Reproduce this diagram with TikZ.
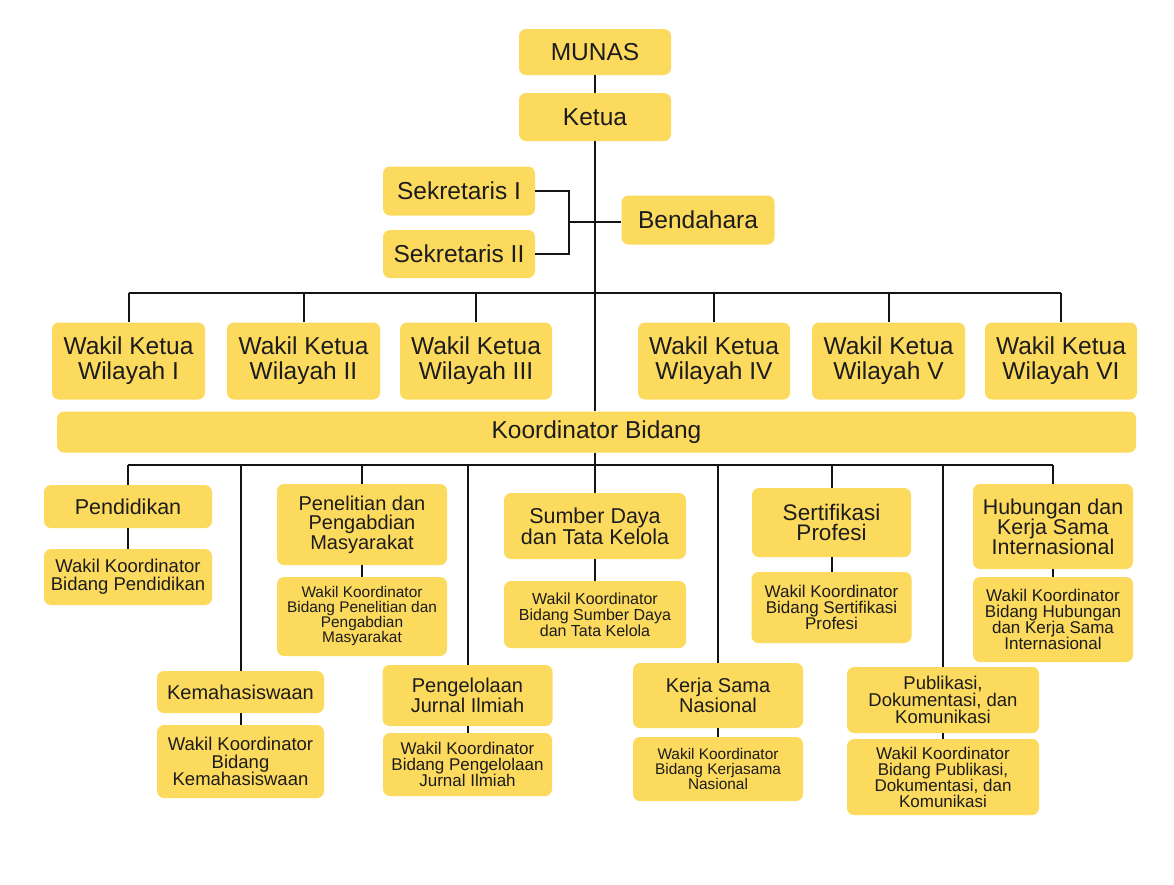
\documentclass[tikz,border=0pt]{standalone}
\usepackage{fontspec}
\setmainfont{Liberation Sans}
\definecolor{boxc}{RGB}{252,218,94}
\definecolor{txtc}{RGB}{28,28,28}
\definecolor{linec}{RGB}{20,20,20}
\newcommand\myfsz[2]{\fontsize{#1pt}{#2pt}\selectfont}
\begin{document}
\begin{tikzpicture}[x=1pt,y=-1pt,
  box/.style={fill=boxc, rounded corners=7pt, align=center, inner sep=0pt, text=txtc},
  fTop/.style={font=\myfsz{24.5}{25}},
  ln/.style={line width=2pt, draw=linec}]
\useasboundingbox[fill=white] (0,0) rectangle (1174,884);

% top
\node[box,fTop,minimum width=152pt,minimum height=46pt] (munas) at (595,52) {MUNAS};
\node[box,fTop,minimum width=152pt,minimum height=48pt] (ketua) at (595,117) {Ketua};
\node[box,fTop,minimum width=152pt,minimum height=49pt] (sek1) at (459,191) {Sekretaris I};
\node[box,fTop,minimum width=152pt,minimum height=48pt] (sek2) at (459,254) {Sekretaris II};
\node[box,fTop,minimum width=153pt,minimum height=49pt] (bend) at (698,220) {Bendahara};

% wakil ketua
\node[box,fTop,minimum width=153pt,minimum height=77pt] (wk1) at (128.5,361) {Wakil Ketua\\Wilayah I};
\node[box,fTop,minimum width=153pt,minimum height=77pt] (wk2) at (303.5,361) {Wakil Ketua\\Wilayah II};
\node[box,fTop,minimum width=152pt,minimum height=77pt] (wk3) at (476,361) {Wakil Ketua\\Wilayah III};
\node[box,fTop,minimum width=152pt,minimum height=77pt] (wk4) at (714,361) {Wakil Ketua\\Wilayah IV};
\node[box,fTop,minimum width=153pt,minimum height=77pt] (wk5) at (888.5,361) {Wakil Ketua\\Wilayah V};
\node[box,fTop,minimum width=152pt,minimum height=77pt] (wk6) at (1061,361) {Wakil Ketua\\Wilayah VI};

\node[box,fTop,minimum width=1079pt,minimum height=41pt] (kb) at (596.5,432) {Koordinator Bidang};

% bidang
\node[box,font=\myfsz{21.5}{20},minimum width=168pt,minimum height=43pt] (pend) at (128,506.5) {Pendidikan};
\node[box,font=\myfsz{18.5}{18},minimum width=168pt,minimum height=56pt] (wpend) at (128,577) {Wakil Koordinator\\Bidang Pendidikan};

\node[box,font=\myfsz{20}{19.5},minimum width=170pt,minimum height=81pt] (pene) at (362,524.5) {Penelitian dan\\Pengabdian\\Masyarakat};
\node[box,font=\myfsz{15.4}{15},minimum width=170pt,minimum height=79pt] (wpene) at (362,616.5) {Wakil Koordinator\\Bidang Penelitian dan\\Pengabdian\\Masyarakat};

\node[box,font=\myfsz{20}{20},minimum width=167pt,minimum height=42pt] (kemah) at (240.5,692) {Kemahasiswaan};
\node[box,font=\myfsz{18.5}{17.5},minimum width=167pt,minimum height=73pt] (wkemah) at (240.5,761.5) {Wakil Koordinator\\Bidang\\Kemahasiswaan};

\node[box,font=\myfsz{21.5}{20},minimum width=182pt,minimum height=66pt] (sd) at (595,526) {Sumber Daya\\dan Tata Kelola};
\node[box,font=\myfsz{16}{16},minimum width=182pt,minimum height=67pt] (wsd) at (595,614.5) {Wakil Koordinator\\Bidang Sumber Daya\\dan Tata Kelola};

\node[box,font=\myfsz{20}{20},minimum width=170pt,minimum height=61pt] (peng) at (467.5,695.5) {Pengelolaan\\Jurnal Ilmiah};
\node[box,font=\myfsz{17}{16},minimum width=169pt,minimum height=63pt] (wpeng) at (467.5,764.5) {Wakil Koordinator\\Bidang Pengelolaan\\Jurnal Ilmiah};

\node[box,font=\myfsz{20}{20},minimum width=170pt,minimum height=65pt] (ksn) at (718,695.5) {Kerja Sama\\Nasional};
\node[box,font=\myfsz{15.4}{15},minimum width=170pt,minimum height=64pt] (wksn) at (718,769) {Wakil Koordinator\\Bidang Kerjasama\\Nasional};

\node[box,font=\myfsz{22.5}{20.7},minimum width=159pt,minimum height=69pt] (sert) at (831.5,522.5) {Sertifikasi\\Profesi};
\node[box,font=\myfsz{17}{16},minimum width=160pt,minimum height=71pt] (wsert) at (831.5,607.5) {Wakil Koordinator\\Bidang Sertifikasi\\Profesi};

\node[box,font=\myfsz{21.4}{20},minimum width=160pt,minimum height=85pt] (hub) at (1053,526.5) {Hubungan dan\\Kerja Sama\\Internasional};
\node[box,font=\myfsz{17}{16},minimum width=160pt,minimum height=85pt] (whub) at (1053,619.5) {Wakil Koordinator\\Bidang Hubungan\\dan Kerja Sama\\Internasional};

\node[box,font=\myfsz{18.5}{17},minimum width=192pt,minimum height=66pt] (pub) at (943,700) {Publikasi,\\Dokumentasi, dan\\Komunikasi};
\node[box,font=\myfsz{17}{16},minimum width=192pt,minimum height=76pt] (wpub) at (943,777) {Wakil Koordinator\\Bidang Publikasi,\\Dokumentasi, dan\\Komunikasi};

% connectors top
\coordinate (bus1) at (595,293);
\coordinate (bus2) at (595,465);
\coordinate (brk) at (569,222);
\draw[ln] (munas.south) -- (ketua.north);
\draw[ln] (ketua.south) -- (ketua.south |- kb.north);
\draw[ln] (sek1.east) -| (brk) |- (sek2.east);
\draw[ln] (brk) -- (brk -| bend.west);

% wakil ketua bus
\draw[ln] (wk1.north |- bus1) -- (wk6.north |- bus1);
\foreach \n in {wk1,wk2,wk3,wk4,wk5,wk6}{
  \draw[ln] (\n.north) -- (\n.north |- bus1);
}

% bidang bus
\draw[ln] (ketua.south |- kb.south) -- (ketua.south |- bus2);
\draw[ln] (pend.north |- bus2) -- (hub.north |- bus2);
\foreach \n in {pend,kemah,pene,peng,sd,ksn,sert,pub,hub}{
  \draw[ln] (\n.north) -- (\n.north |- bus2);
}
\foreach \a/\b in {pend/wpend,pene/wpene,kemah/wkemah,sd/wsd,peng/wpeng,ksn/wksn,sert/wsert,hub/whub,pub/wpub}{
  \draw[ln] (\a.south) -- (\b.north);
}
\end{tikzpicture}
\end{document}
